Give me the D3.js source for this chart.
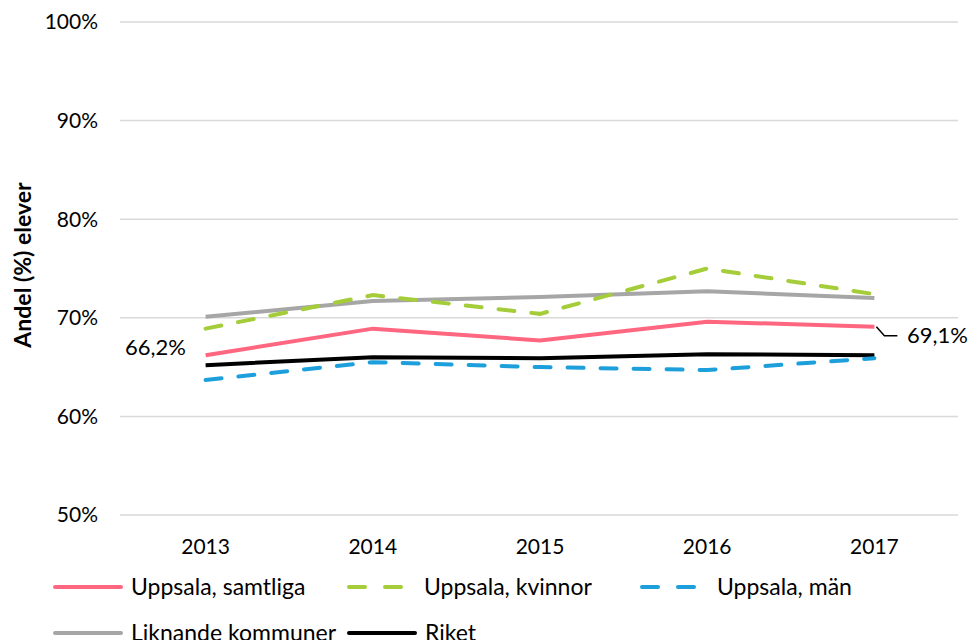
<!doctype html>
<meta charset="utf8">
<style>
  body { margin: 0; background: #fff; }
  text { font-family: Lato, "Noto Sans", sans-serif; fill: #000; }
</style>
<body>
<div id="chart"></div>
<script src="https://d3js.org/d3.v7.min.js"></script>
<script>
(function() {

const YEARS = ["2013", "2014", "2015", "2016", "2017"];
const Y_TICKS = [50, 60, 70, 80, 90, 100];

const SAMTLIGA = [66.2, 68.9, 67.7, 69.6, 69.1];
const KVINNOR = [68.9, 72.3, 70.4, 75.0, 72.4];
const MAN = [63.7, 65.5, 65.0, 64.7, 65.9];
const LIKNANDE = [70.1, 71.7, 72.1, 72.7, 72.0];
const RIKET = [65.2, 66.0, 65.9, 66.3, 66.2];

const SERIES = [
  {name: "Liknande kommuner", values: LIKNANDE, color: "#a6a6a6", dash: null},
  {name: "Riket", values: RIKET, color: "#000000", dash: null},
  {name: "Uppsala, män", values: MAN, color: "#1d9fdb", dash: "16,17"},
  {name: "Uppsala, kvinnor", values: KVINNOR, color: "#a5cd39", dash: "16,17"},
  {name: "Uppsala, samtliga", values: SAMTLIGA, color: "#ff6680", dash: null},
];

const LEGEND = [
  {name: "Uppsala, samtliga", color: "#ff6680", dash: null, x: 53, y: 587},
  {name: "Uppsala, kvinnor", color: "#a5cd39", dash: "16,20", x: 347, y: 587},
  {name: "Uppsala, män", color: "#1d9fdb", dash: "16,20", x: 640, y: 587},
  {name: "Liknande kommuner", color: "#a6a6a6", dash: null, x: 53, y: 633},
  {name: "Riket", color: "#000000", dash: null, x: 347, y: 633},
];

const width = 968;
const height = 640;
const margin = {left: 122, right: 10, top: 22, bottom: 125};

const svg = d3.select("#chart").append("svg")
  .attr("width", width)
  .attr("height", height);

const x = d3.scalePoint()
  .domain(YEARS)
  .range([margin.left, width - margin.right])
  .padding(0.5);

const y = d3.scaleLinear()
  .domain([50, 100])
  .range([height - margin.bottom, margin.top]);

// gridlines
svg.append("g")
  .selectAll("line")
  .data(Y_TICKS)
  .join("line")
    .attr("x1", margin.left - 2)
    .attr("x2", width - margin.right)
    .attr("y1", d => y(d))
    .attr("y2", d => y(d))
    .attr("stroke", "#d9d9d9")
    .attr("stroke-width", 1.5);

// y tick labels
svg.append("g")
  .selectAll("text")
  .data(Y_TICKS)
  .join("text")
    .attr("x", 98)
    .attr("y", d => y(d))
    .attr("dy", "0.35em")
    .attr("text-anchor", "end")
    .attr("font-size", 21)
    .text(d => d + "%");

// x tick labels
svg.append("g")
  .selectAll("text")
  .data(YEARS)
  .join("text")
    .attr("x", d => x(d))
    .attr("y", 547)
    .attr("dy", "0.35em")
    .attr("text-anchor", "middle")
    .attr("font-size", 21)
    .text(d => d);

// y axis title
svg.append("text")
  .attr("transform", `translate(23,265) rotate(-90)`)
  .attr("text-anchor", "middle")
  .attr("dy", "0.35em")
  .attr("font-size", 23)
  .attr("font-weight", "bold")
  .text("Andel (%) elever");

const line = d3.line()
  .x((d, i) => x(YEARS[i]))
  .y(d => y(d));

svg.append("g")
  .selectAll("path")
  .data(SERIES)
  .join("path")
    .attr("d", d => line(d.values))
    .attr("fill", "none")
    .attr("stroke", d => d.color)
    .attr("stroke-width", 4)
    .attr("stroke-dasharray", d => d.dash)
    .attr("stroke-linecap", d => d.dash ? "round" : "butt");

// data labels
const first = SAMTLIGA[0];
const last = SAMTLIGA[SAMTLIGA.length - 1];
const fmt = v => v.toFixed(1).replace(".", ",") + "%";

svg.append("text")
  .attr("x", 186)
  .attr("y", y(first))
  .attr("text-anchor", "end")
  .attr("font-size", 22)
  .text(fmt(first));

const lx = x(YEARS[YEARS.length - 1]);
const ly = y(last);
svg.append("path")
  .attr("d", `M${lx + 2},${ly} L${lx + 10},${ly + 9} L${lx + 23},${ly + 9}`)
  .attr("fill", "none")
  .attr("stroke", "#000")
  .attr("stroke-width", 1.5);

svg.append("text")
  .attr("x", 907)
  .attr("y", ly + 9)
  .attr("dy", "0.35em")
  .attr("font-size", 22)
  .text(fmt(last));

// legend
const legend = svg.append("g")
  .selectAll("g")
  .data(LEGEND)
  .join("g")
    .attr("transform", d => `translate(${d.x},${d.y})`);

legend.append("line")
  .attr("x1", 2)
  .attr("x2", d => d.dash ? 56 : 68)
  .attr("stroke", d => d.color)
  .attr("stroke-width", 4)
  .attr("stroke-dasharray", d => d.dash)
  .attr("stroke-linecap", "round");

legend.append("text")
  .attr("x", d => d.dash ? 77 : 78)
  .attr("dy", "0.35em")
  .attr("font-size", 23)
  .text(d => d.name);

})();
</script>
</body>
